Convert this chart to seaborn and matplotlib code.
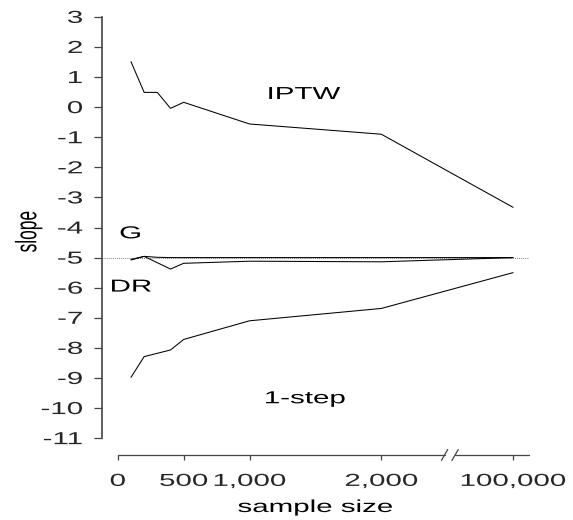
import numpy as np
import pandas as pd
import seaborn as sns
from matplotlib import pyplot as plt
from matplotlib import patheffects as pe
from matplotlib.transforms import Affine2D

# estimated slope by sample size, one list per estimator
sample_size = [100, 200, 300, 400, 500, 1000, 2000, 100000]
iptw = [1.51, 0.49, 0.49, -0.04, 0.16, -0.56, -0.90, -3.33]
g_comp = [-5.06, -4.96, -4.99, -5.00, -5.00, -5.00, -5.00, -5.00]
dr = [-5.08, -4.96, -5.17, -5.38, -5.19, -5.12, -5.14, -5.00]
one_step = [-8.98, -8.29, -8.18, -8.07, -7.72, -7.10, -6.69, -5.50]
true_slope = -5

x_ticks = [0, 500, 1000, 2000, 100000]
x_ticklabels = ['0', '500', '1,000', '2,000', '100,000']
y_ticks = list(range(-11, 4))
y_ticklabels = [str(v) for v in y_ticks]


def squash(n):
    # axis is broken after 2,000: 100,000 sits one step further on
    return n if n <= 2000 else 3000


class Widen(pe.AbstractPathEffect):
    # the original was squeezed when saved, so its text came out wide
    def __init__(self, sx=1.7, anchor='center'):
        super().__init__()
        self.sx = sx
        self.anchor = anchor

    def draw_path(self, renderer, gc, tpath, affine, rgbFace=None):
        ext = tpath.get_extents(affine)
        x0 = {'left': ext.x0, 'right': ext.x1}.get(self.anchor, (ext.x0 + ext.x1) / 2)
        stretch = Affine2D().translate(-x0, 0).scale(self.sx, 1).translate(x0, 0)
        renderer.draw_path(gc, tpath, affine + stretch, rgbFace)


df = pd.DataFrame({
    'n': sample_size * 4,
    'slope': iptw + g_comp + dr + one_step,
    'method': ['IPTW'] * 8 + ['G'] * 8 + ['DR'] * 8 + ['1-step'] * 8,
})
df['pos'] = df['n'].map(squash)

sns.set_style('ticks')
plt.rcParams['font.family'] = ['Liberation Sans', 'DejaVu Sans']
plt.rcParams['font.size'] = 12.5
plt.rcParams['text.color'] = 'black'
plt.rcParams['axes.labelcolor'] = 'black'

fig = plt.figure(figsize=(5.73, 5.2), dpi=100)
ax = fig.add_axes([0.178, 0.125, 0.745, 0.875])

ax.axhline(true_slope, color='#555555', lw=0.6, ls=(0, (1, 1.5)), zorder=1)
sns.lineplot(data=df, x='pos', y='slope', hue='method', estimator=None,
             palette={m: 'black' for m in df['method'].unique()},
             lw=0.75, legend=False, ax=ax, zorder=2)

labels = ['IPTW', 'G', 'DR', '1-step']
label_x = [1413, 96, 101, 1421]
label_y = [0.27, -4.36, -6.13, -9.84]
for s, x, y in zip(labels, label_x, label_y):
    ax.text(x, y, s, ha='center', va='baseline', fontsize=12.5,
            path_effects=[Widen()])

ax.set_xlim(-120, 3120)
ax.set_ylim(-11.56, 3.56)
ax.set_xticks([squash(v) for v in x_ticks], x_ticklabels)
ax.set_yticks(y_ticks, y_ticklabels)

for sp in ['top', 'right', 'bottom']:
    ax.spines[sp].set_visible(False)
ax.spines['left'].set_bounds(-11, 3)
ax.spines['left'].set_color('#444444')
ax.spines['left'].set_linewidth(1.2)

# bottom axis drawn by hand with the // break
xt = ax.get_xaxis_transform()
axis_kw = dict(transform=xt, clip_on=False, color='#444444', lw=0.9)
ax.plot([0, 2480], [0, 0], **axis_kw)
ax.plot([2560, 3120], [0, 0], **axis_kw)
for xb in (2480, 2560):
    ax.plot([xb - 24, xb + 24], [-0.012, 0.012], **axis_kw)

ax.tick_params(axis='x', length=3.6, width=0.9, pad=10, color='#444444')
ax.tick_params(axis='y', length=6, width=0.9, pad=7.9, color='#444444')

for t in ax.xaxis.get_major_ticks():
    t.label1.set_path_effects([Widen()])
for t in ax.yaxis.get_major_ticks():
    t.label1.set_path_effects([Widen(anchor='right')])

ax.set_xlabel('sample size', labelpad=8)
ax.xaxis.label.set_path_effects([Widen()])
ax.set_ylabel('slope')
ax.yaxis.set_label_coords(-0.141, 0.491)
ax.yaxis.label.set_path_effects([Widen(anchor='right')])

fig.savefig('out.png', dpi=100)
